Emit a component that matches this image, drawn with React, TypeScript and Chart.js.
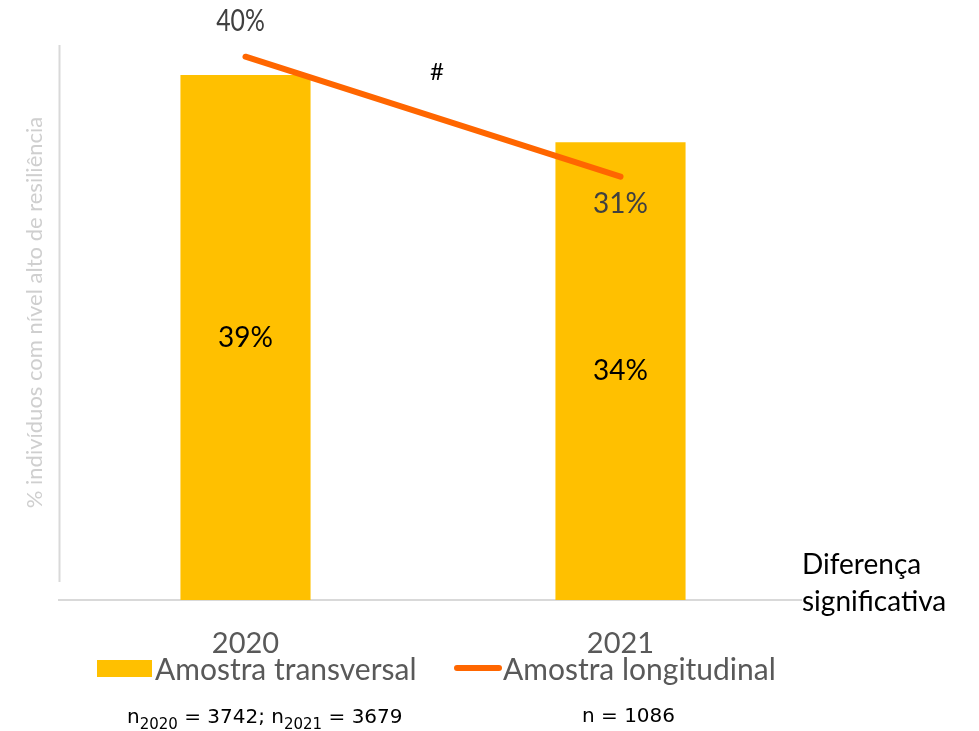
import React, { useEffect, useRef } from 'react';
import { Chart, registerables } from 'chart.js';

Chart.register(...registerables);

const categories = ['2020', '2021'];
const transversalValues = [39, 34];
const longitudinalValues = [40, 31];
const seriesNames = ['Amostra transversal', 'Amostra longitudinal'];
const yAxisTitle = '% indivíduos com nível alto de resiliência';
const significanceMark = '#';
const significanceNote = ['Diferença', 'significativa'];
const transversalNote: [string, boolean][] = [
  ['n', false],
  ['2020', true],
  [' = 3742; n', false],
  ['2021', true],
  [' = 3679', false],
];
const longitudinalNote = 'n = 1086';

const BAR_COLOR = '#FFC000';
const LINE_COLOR = '#FF6600';
const AXIS_COLOR = '#d9d9d9';
const LATO = 'Lato, "Noto Sans", sans-serif';
const NOTE_FONT = '"DejaVu Sans", sans-serif';

function narrowText(ctx: CanvasRenderingContext2D, text: string, x: number, y: number, sx: number) {
  ctx.save();
  ctx.translate(x, y);
  ctx.scale(sx, 1);
  ctx.fillText(text, 0, 0);
  ctx.restore();
}

const overlayPlugin = {
  id: 'overlay',
  beforeDatasetsDraw(chart: any) {
    const { ctx, chartArea } = chart;
    ctx.save();
    ctx.strokeStyle = AXIS_COLOR;
    ctx.lineWidth = 2;
    ctx.beginPath();
    ctx.moveTo(chartArea.left, chartArea.bottom);
    ctx.lineTo(chartArea.right - 6, chartArea.bottom);
    ctx.moveTo(chartArea.left + 1.5, chartArea.top);
    ctx.lineTo(chartArea.left + 1.5, chartArea.bottom - 18);
    ctx.stroke();

    // y axis title
    ctx.save();
    ctx.translate(35, (chartArea.top + chartArea.bottom) / 2 - 10);
    ctx.rotate(-Math.PI / 2);
    ctx.fillStyle = '#cfcfcf';
    ctx.font = `22px ${LATO}`;
    ctx.textAlign = 'center';
    ctx.textBaseline = 'middle';
    ctx.fillText(yAxisTitle, 0, 0);
    ctx.restore();
    ctx.restore();
  },
  afterDatasetsDraw(chart: any) {
    const { ctx, chartArea } = chart;
    const barMeta = chart.getDatasetMeta(0);
    const lineMeta = chart.getDatasetMeta(1);
    ctx.save();
    ctx.textAlign = 'center';
    ctx.textBaseline = 'middle';

    // bar labels
    ctx.fillStyle = '#000000';
    ctx.font = `28px ${LATO}`;
    barMeta.data.forEach((el: any, i: number) => {
      ctx.fillText(`${transversalValues[i]}%`, el.x, (el.y + el.base) / 2);
    });

    // line labels
    ctx.fillStyle = '#404040';
    lineMeta.data.forEach((el: any, i: number) => {
      if (i === 0) {
        ctx.font = `31px ${LATO}`;
        narrowText(ctx, `${longitudinalValues[i]}%`, el.x - 5, el.y - 36, 0.8);
      } else {
        ctx.font = `28px ${LATO}`;
        ctx.fillText(`${longitudinalValues[i]}%`, el.x, el.y + 27);
      }
    });

    // significance mark
    const p0 = lineMeta.data[0];
    const p1 = lineMeta.data[1];
    ctx.fillStyle = '#000000';
    ctx.font = `24px ${LATO}`;
    ctx.fillText(significanceMark, (p0.x + p1.x) / 2 + 4, (p0.y + p1.y) / 2 - 44);

    // significance note
    ctx.textAlign = 'left';
    ctx.font = `28px ${LATO}`;
    ctx.fillText(significanceNote[0], chartArea.right - 6, chartArea.bottom - 35);
    ctx.fillText(significanceNote[1], chartArea.right - 6, chartArea.bottom + 2);

    // legend
    const legendY = chartArea.bottom + 68;
    ctx.fillStyle = BAR_COLOR;
    ctx.fillRect(97, legendY - 8, 55, 17);
    ctx.strokeStyle = LINE_COLOR;
    ctx.lineWidth = 6;
    ctx.lineCap = 'round';
    ctx.beginPath();
    ctx.moveTo(457, legendY);
    ctx.lineTo(499, legendY);
    ctx.stroke();
    ctx.fillStyle = '#595959';
    ctx.font = `30px ${LATO}`;
    ctx.fillText(seriesNames[0], 155, legendY + 2);
    ctx.fillText(seriesNames[1], 503, legendY + 2);

    // sample notes
    ctx.fillStyle = '#000000';
    ctx.textBaseline = 'alphabetic';
    let x = 127;
    transversalNote.forEach(([text, sub]) => {
      ctx.font = sub ? `15px ${NOTE_FONT}` : `20px ${NOTE_FONT}`;
      ctx.fillText(text, x, sub ? 729 : 723);
      x += ctx.measureText(text).width;
    });
    ctx.font = `20px ${NOTE_FONT}`;
    ctx.fillText(longitudinalNote, 582, 722);
    ctx.restore();
  },
};

export default function App() {
  const canvasRef = useRef<HTMLCanvasElement | null>(null);

  useEffect(() => {
    if (!canvasRef.current) return;
    const chart = new Chart(canvasRef.current, {
      type: 'bar',
      data: {
        labels: categories,
        datasets: [
          {
            type: 'bar',
            label: seriesNames[0],
            data: transversalValues,
            backgroundColor: BAR_COLOR,
            barPercentage: 0.347,
            categoryPercentage: 1,
            yAxisID: 'y',
            order: 1,
          },
          {
            type: 'line',
            label: seriesNames[1],
            data: longitudinalValues,
            borderColor: LINE_COLOR,
            backgroundColor: LINE_COLOR,
            borderWidth: 6,
            borderCapStyle: 'round',
            pointRadius: 0,
            tension: 0,
            yAxisID: 'y2',
            order: 0,
          } as any,
        ],
      },
      options: {
        responsive: false,
        animation: false,
        layout: { padding: { left: 58, right: 171, top: 45, bottom: 61 } },
        plugins: {
          legend: { display: false },
          tooltip: { enabled: false },
          title: { display: false },
        },
        scales: {
          x: {
            offset: true,
            grid: { display: false, drawTicks: false },
            border: { display: false },
            ticks: {
              color: '#595959',
              font: { family: LATO, size: 29 },
              padding: 26,
              maxRotation: 0,
            },
            afterFit: (scale: any) => {
              scale.height = 70;
            },
          },
          y: { display: false, min: 0, max: 41.23 },
          y2: { display: false, min: -0.75, max: 40.88 },
        },
      },
      plugins: [overlayPlugin],
    });
    return () => chart.destroy();
  }, []);

  return (
    <canvas
      ref={canvasRef}
      width={979}
      height={731}
      style={{ position: 'absolute', left: 0, top: 0, width: 979, height: 731 }}
    />
  );
}
